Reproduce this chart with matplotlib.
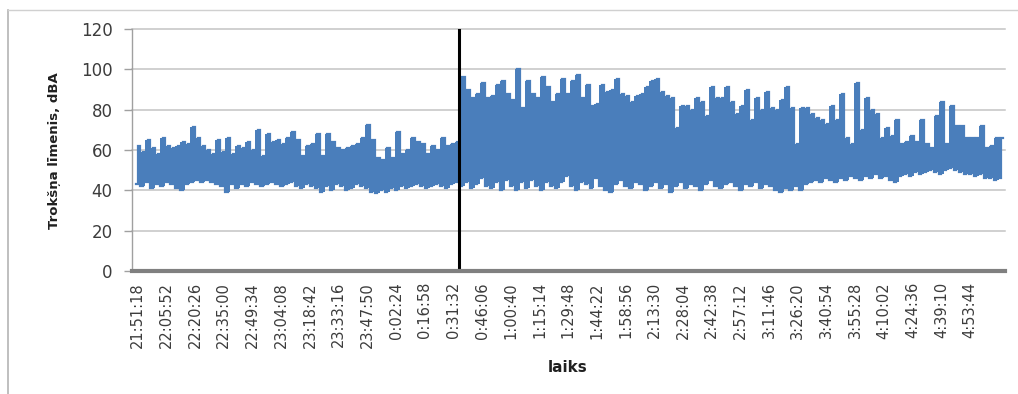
import numpy as np
import matplotlib
matplotlib.use("Agg")
import matplotlib.pyplot as plt
from matplotlib.lines import Line2D

# Recording start, label spacing on the time axis and the moment marked by the black line
start_clock = "21:51:18"
label_every_s = 874
n_labels = 30
sample_step_s = 152
event_clock = "0:34:30"

# Noise level, dBA: lowest and highest reading in each slice of the record
trough_db = [
    43, 42, 44, 41, 43, 42, 44, 43, 41, 40,
    43, 44, 45, 44, 45, 44, 43, 42, 39, 43,
    41, 43, 42, 44, 43, 42, 43, 44, 43, 42,
    43, 44, 42, 41, 43, 42, 41, 39, 42, 40,
    43, 42, 40, 41, 43, 42, 41, 39, 38.5, 40,
    39, 41, 40, 42, 41, 42, 43, 42, 41, 42,
    43, 42, 41, 43, 44, 42, 44, 41, 43, 46,
    42, 41, 44, 40, 45, 42, 40, 44, 41, 45,
    42, 40, 44, 42, 41, 44, 47, 42, 40, 44,
    43, 41, 46, 42, 40, 39, 43, 45, 42, 41,
    44, 43, 40, 42, 44, 41, 43, 39, 42, 44,
    41, 43, 42, 40, 43, 45, 42, 41, 43, 44,
    42, 40, 43, 42, 44, 41, 43, 42, 40, 39,
    41, 40, 42, 40, 43, 44, 45, 44, 46, 45,
    44, 46, 45, 47, 46, 45, 47, 46, 48, 46,
    47, 45, 44, 47, 48, 47, 49, 48, 49, 50,
    49, 48, 50, 51, 50, 49, 48, 48, 47, 48,
    46, 46, 45, 46,
]
peak_db = [
    62, 59, 65, 61, 58, 66, 62, 61, 62, 64,
    63, 71.5, 66, 62, 60, 58, 65, 59, 66, 58,
    62, 61, 64, 60, 70, 57, 68, 64, 65, 63,
    66, 69, 65, 57, 62, 63, 68, 57, 68, 64,
    61, 60, 61, 62, 63, 66, 72.5, 65, 56, 55,
    61, 56, 69, 58, 60, 66, 64, 63, 58, 62,
    60, 66, 62, 63, 64, 96, 90, 86, 88, 93,
    86, 87, 92, 94, 88, 85, 100, 81, 94, 88,
    86, 96, 91, 84, 88, 95, 88, 94, 97, 86,
    92, 82, 83, 92, 89, 90, 95, 88, 87, 84,
    87, 88, 91, 94, 95, 89, 87, 86, 71, 82,
    82, 80, 86, 84, 77, 91, 86, 86, 91, 84,
    78, 82, 90, 75, 86, 80, 89, 81, 80, 85,
    91, 81, 63, 81, 81, 78, 76, 75, 73, 82,
    75, 88, 66, 63, 93, 70, 86, 80, 78, 66,
    71, 67, 75, 63, 64, 67, 64, 75, 63, 61,
    77, 84, 63, 82, 72, 72, 66, 66, 66, 72,
    61, 62, 66, 66,
]

y_ticks = [0, 20, 40, 60, 80, 100, 120]
y_title = "Trokšņa līmenis, dBA"
x_title = "laiks"


def clock_to_s(clock):
    h, m, s = (int(p) for p in clock.split(":"))
    return h * 3600 + m * 60 + s


def fmt_clock(sec):
    sec = int(sec) % 86400
    return f"{sec // 3600}:{sec % 3600 // 60:02d}:{sec % 60:02d}"


lo = np.asarray(trough_db, dtype=float)
hi = np.asarray(peak_db, dtype=float)
t_slice = np.arange(hi.size) * sample_step_s

# the record as one line that swings low -> high inside every slice
level = np.empty(2 * hi.size)
level[0::2] = lo
level[1::2] = hi
t_line = np.repeat(t_slice, 2) + np.tile([-sample_step_s / 4, sample_step_s / 4], hi.size)

t0 = clock_to_s(start_clock)
event_s = (clock_to_s(event_clock) - t0) % 86400

W, H = 1018, 394
fig = plt.figure(figsize=(W / 100, H / 100), dpi=100)
fig.patch.set_facecolor("white")

# chart-area frame (left and top edges)
fig.add_artist(Line2D([8 / W, 8 / W], [0, 1 - 10 / H], transform=fig.transFigure,
                      color="#b4b4b4", lw=1.2))
fig.add_artist(Line2D([8 / W, 1], [1 - 10 / H, 1 - 10 / H], transform=fig.transFigure,
                      color="#d0d0d0", lw=1.0))

ax = fig.add_axes([132 / W, 1 - 271 / H, (1005 - 132) / W, (271 - 29) / H])
blue = "#4A7EBB"
ax.fill_between(t_slice, lo, hi, step="mid", color=blue, lw=0, zorder=2)
ax.plot(t_line, level, color=blue, lw=1.6, drawstyle="steps-mid",
        solid_joinstyle="miter", zorder=3)
ax.axvline(event_s, color="black", lw=2.2, zorder=4)

ax.set_ylim(0, 120)
ax.set_yticks(y_ticks)
ax.set_xlim(-137 - 38, 26446 - 38)
ticks = np.arange(n_labels) * label_every_s
ax.set_xticks(ticks)
ax.set_xticklabels([fmt_clock(t0 + x) for x in ticks], rotation=90,
                   fontsize=10.5, color="#3c3c3c")
ax.tick_params(axis="x", length=0, pad=8)
ax.tick_params(axis="y", length=6, width=1.0, color="#a0a0a0", pad=8,
               labelsize=12, labelcolor="#3c3c3c")

ax.grid(axis="y", color="#c4c4c4", lw=1.1)
for gl in ax.get_ygridlines():
    gl.set_clip_on(False)
ax.set_axisbelow(True)

for side in ("top", "right"):
    ax.spines[side].set_visible(False)
ax.spines["left"].set_color("#a0a0a0")
ax.spines["left"].set_linewidth(1.0)
ax.spines["bottom"].set_color("#808080")
ax.spines["bottom"].set_linewidth(3.0)
ax.spines["bottom"].set_zorder(5)

fig.text(55 / W, 1 - 151 / H, y_title, rotation=90, ha="center", va="center",
         fontsize=9.5, fontweight="bold", color="#202020")
fig.text(568 / W, 1 - 367 / H, x_title, ha="center", va="center",
         fontsize=11, fontweight="bold", color="#202020")

fig.savefig("out.png", dpi=100, facecolor="white")
